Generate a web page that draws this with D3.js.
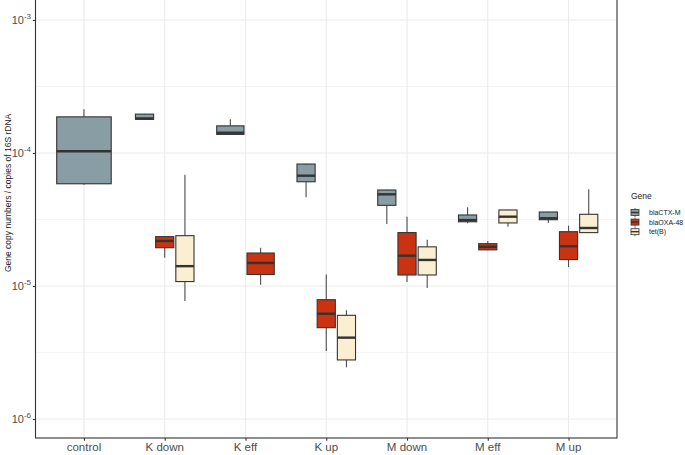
<!DOCTYPE html>
<html>
<head>
<meta charset="utf-8">
<script src="https://cdn.jsdelivr.net/npm/d3@7"></script>
<style>
	body { margin: 0; background: #fff; }
	svg { display: block; font-family: "Liberation Sans", Arial, sans-serif; }
</style>
</head>
<body>
<script>
// categories on the x axis
var categories = ["control", "K down", "K eff", "K up", "M down", "M eff", "M up"];
var genes = ["blaCTX-M", "blaOXA-48", "tet(B)"];
var geneColors = ["#899DA4", "#C93312", "#FAEFD1"];

// [lower whisker, q1, median, q3, upper whisker] per category, null = no data
var ctxStats = [
	[5.78e-5, 5.87e-5, 1.03e-4, 1.87e-4, 2.13e-4],
	[1.78e-4, 1.79e-4, 1.82e-4, 1.96e-4, 1.97e-4],
	[1.37e-4, 1.38e-4, 1.42e-4, 1.60e-4, 1.79e-4],
	[4.64e-5, 6.08e-5, 6.75e-5, 8.26e-5, 8.3e-5],
	[2.93e-5, 4.04e-5, 4.89e-5, 5.27e-5, 5.3e-5],
	[2.96e-5, 3.04e-5, 3.13e-5, 3.42e-5, 3.91e-5],
	[2.98e-5, 3.15e-5, 3.23e-5, 3.60e-5, 3.62e-5]
];
var oxaStats = [
	null,
	[1.63e-5, 1.94e-5, 2.18e-5, 2.35e-5, 2.36e-5],
	[1.02e-5, 1.22e-5, 1.49e-5, 1.77e-5, 1.94e-5],
	[3.24e-6, 4.86e-6, 6.19e-6, 7.89e-6, 1.22e-5],
	[1.07e-5, 1.21e-5, 1.69e-5, 2.52e-5, 3.32e-5],
	[1.86e-5, 1.87e-5, 1.97e-5, 2.08e-5, 2.18e-5],
	[1.39e-5, 1.58e-5, 1.99e-5, 2.56e-5, 2.84e-5]
];
var tetStats = [
	null,
	[7.7e-6, 1.08e-5, 1.41e-5, 2.39e-5, 6.87e-5],
	null,
	[2.45e-6, 2.78e-6, 4.09e-6, 6.02e-6, 6.56e-6],
	[9.66e-6, 1.21e-5, 1.57e-5, 1.97e-5, 2.23e-5],
	[2.79e-5, 2.98e-5, 3.32e-5, 3.73e-5, 3.75e-5],
	[2.50e-5, 2.52e-5, 2.73e-5, 3.46e-5, 5.34e-5]
];
var yTicks = [1e-6, 1e-5, 1e-4, 1e-3];
var yMinor = [Math.pow(10, -5.5), Math.pow(10, -4.5), Math.pow(10, -3.5)];

var width = 685;
var height = 455;
var panel = {left: 35.5, right: 617, top: 0, bottom: 438};

var svg = d3.select("body").append("svg")
	.attr("width", width)
	.attr("height", height);

var x = d3.scalePoint()
	.domain(categories)
	.range([panel.left, panel.right])
	.padding(0.6);

var y = d3.scaleLog()
	.domain([1e-6, 1e-3])
	.range([419, 20]);

/* grid */
var grid = svg.append("g");
grid.selectAll("line.minor")
	.data(yMinor)
	.enter().append("line")
	.attr("x1", panel.left).attr("x2", panel.right)
	.attr("y1", function(d) { return y(d); })
	.attr("y2", function(d) { return y(d); })
	.attr("stroke", "#F2F2F2")
	.attr("stroke-width", 0.8);
grid.selectAll("line.majory")
	.data(yTicks)
	.enter().append("line")
	.attr("x1", panel.left).attr("x2", panel.right)
	.attr("y1", function(d) { return y(d); })
	.attr("y2", function(d) { return y(d); })
	.attr("stroke", "#EBEBEB")
	.attr("stroke-width", 1.1);
grid.selectAll("line.majorx")
	.data(categories)
	.enter().append("line")
	.attr("y1", panel.top).attr("y2", panel.bottom)
	.attr("x1", function(d) { return x(d); })
	.attr("x2", function(d) { return x(d); })
	.attr("stroke", "#EBEBEB")
	.attr("stroke-width", 1.1);

/* boxes */
var allStats = [ctxStats, oxaStats, tetStats];
var boxes = [];
categories.forEach(function(cat, ci) {
	var present = [];
	allStats.forEach(function(s, gi) { if (s[ci]) present.push(gi); });
	var slot = 0.75 * x.step() / present.length;
	present.forEach(function(gi, k) {
		var s = allStats[gi][ci];
		boxes.push({
			cx: x(cat) + (k - (present.length - 1) / 2) * slot,
			w: slot * 0.9,
			gene: gi,
			lo: s[0], q1: s[1], med: s[2], q3: s[3], hi: s[4]
		});
	});
});

var box = svg.append("g").selectAll("g")
	.data(boxes)
	.enter().append("g");

box.append("line")
	.attr("x1", function(d) { return d.cx; })
	.attr("x2", function(d) { return d.cx; })
	.attr("y1", function(d) { return y(d.hi); })
	.attr("y2", function(d) { return y(d.q3); })
	.attr("stroke", "#4d4d4d")
	.attr("stroke-width", 1.1);
box.append("line")
	.attr("x1", function(d) { return d.cx; })
	.attr("x2", function(d) { return d.cx; })
	.attr("y1", function(d) { return y(d.q1); })
	.attr("y2", function(d) { return y(d.lo); })
	.attr("stroke", "#4d4d4d")
	.attr("stroke-width", 1.1);
box.append("rect")
	.attr("x", function(d) { return d.cx - d.w / 2; })
	.attr("y", function(d) { return y(d.q3); })
	.attr("width", function(d) { return d.w; })
	.attr("height", function(d) { return y(d.q1) - y(d.q3); })
	.attr("fill", function(d) { return geneColors[d.gene]; })
	.attr("stroke", "#333333")
	.attr("stroke-width", 1.1);
box.append("line")
	.attr("x1", function(d) { return d.cx - d.w / 2; })
	.attr("x2", function(d) { return d.cx + d.w / 2; })
	.attr("y1", function(d) { return y(d.med); })
	.attr("y2", function(d) { return y(d.med); })
	.attr("stroke", "#333333")
	.attr("stroke-width", 2.4);

/* panel border */
svg.append("rect")
	.attr("x", panel.left).attr("y", panel.top - 2)
	.attr("width", panel.right - panel.left)
	.attr("height", panel.bottom - panel.top + 2)
	.attr("fill", "none")
	.attr("stroke", "#333333")
	.attr("stroke-width", 1.1);

/* axes */
var yAxis = svg.append("g")
	.attr("transform", "translate(" + panel.left + ",0)")
	.call(d3.axisLeft(y).tickValues(yTicks).tickSize(2.7).tickFormat(""));
var xAxis = svg.append("g")
	.attr("transform", "translate(0," + panel.bottom + ")")
	.call(d3.axisBottom(x).tickSize(2.7).tickFormat(""));
svg.selectAll(".domain").remove();
svg.selectAll(".tick line").attr("stroke", "#333333").attr("stroke-width", 1.1);

var ylab = svg.append("g").selectAll("text")
	.data(yTicks)
	.enter().append("text")
	.attr("x", 31)
	.attr("y", function(d) { return y(d) + 4; })
	.attr("text-anchor", "end")
	.attr("fill", "#4D4D4D")
	.style("font-size", "11px");
ylab.append("tspan").text("10");
ylab.append("tspan")
	.attr("dy", -5)
	.style("font-size", "8px")
	.text(function(d) { return Math.round(Math.log10(d)); });

svg.append("g").selectAll("text")
	.data(categories)
	.enter().append("text")
	.attr("x", function(d) { return x(d); })
	.attr("y", 451)
	.attr("text-anchor", "middle")
	.attr("fill", "#4D4D4D")
	.style("font-size", "11.5px")
	.text(function(d) { return d; });

svg.append("text")
	.attr("transform", "translate(11," + y(Math.pow(10, -4.3)) + ") rotate(-90)")
	.attr("text-anchor", "middle")
	.attr("fill", "#1a1a1a")
	.style("font-size", "8.5px")
	.text("Gene copy numbers / copies of 16S rDNA");

/* legend */
var legend = svg.append("g").attr("transform", "translate(631,0)");
legend.append("text")
	.attr("x", 0).attr("y", 199)
	.attr("fill", "#1a1a1a")
	.style("font-size", "8.5px")
	.text("Gene");
var key = legend.selectAll("g.key")
	.data(genes)
	.enter().append("g")
	.attr("transform", function(d, i) { return "translate(0," + (212.5 + i * 9.6) + ")"; });
key.append("line")
	.attr("x1", 4).attr("x2", 4)
	.attr("y1", -4.5).attr("y2", 4.5)
	.attr("stroke", "#333333").attr("stroke-width", 0.8);
key.append("rect")
	.attr("x", 0).attr("y", -3)
	.attr("width", 8).attr("height", 6)
	.attr("fill", function(d, i) { return geneColors[i]; })
	.attr("stroke", "#333333").attr("stroke-width", 0.8);
key.append("line")
	.attr("x1", 0).attr("x2", 8)
	.attr("y1", 0).attr("y2", 0)
	.attr("stroke", "#333333").attr("stroke-width", 1.4);
key.append("text")
	.attr("x", 18).attr("y", 2.5)
	.attr("fill", "#1a1a1a")
	.style("font-size", "7px")
	.text(function(d) { return d; });
</script>
</body>
</html>
